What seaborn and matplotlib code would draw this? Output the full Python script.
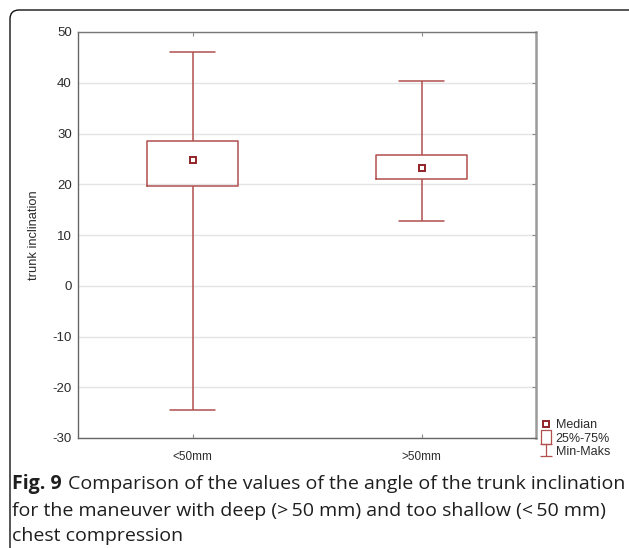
import numpy as np
import pandas as pd
import matplotlib
matplotlib.use("Agg")
import matplotlib.pyplot as plt
from matplotlib.path import Path
from matplotlib.lines import Line2D
from matplotlib.patches import FancyBboxPatch
import seaborn as sns

# Five-number summaries of trunk inclination per compression-depth group
groups = ["<50mm", ">50mm"]
mins = [-24.5, 12.7]
q1s = [19.7, 21.1]
medians = [24.7, 23.3]
q3s = [28.6, 25.8]
maxs = [46.0, 40.3]
y_ticks = [-30, -20, -10, 0, 10, 20, 30, 40, 50]

# With five values the 25/50/75 percentiles fall exactly on the summary points
rows = []
for g, a, b, c, d, e in zip(groups, mins, q1s, medians, q3s, maxs):
    for v in (a, b, c, d, e):
        rows.append({"group": g, "value": v})
df = pd.DataFrame(rows)

sns.set_style("white")
plt.rcParams["font.family"] = ["Liberation Sans", "DejaVu Sans"]

BOX_RED = "#b2504f"
MED_RED = "#922428"
TEXT = "#2b2b2b"

fig = plt.figure(figsize=(6.29, 5.48), dpi=100)
ax = fig.add_axes([78 / 629, 1 - 438 / 548, 458 / 629, 406 / 548])

sns.boxplot(
    data=df, x="group", y="value", order=groups, whis=(0, 100), width=0.4,
    fill=False, color=BOX_RED, linecolor=BOX_RED, linewidth=1.1,
    showfliers=False, medianprops={"visible": False}, ax=ax,
)
sns.pointplot(
    data=df, x="group", y="value", order=groups, estimator="median",
    errorbar=None, marker="s", linestyle="none", color=MED_RED,
    markersize=4.5, markerfacecolor="white", markeredgecolor=MED_RED,
    markeredgewidth=1.4, ax=ax,
)

ax.set_xlim(-0.5, 1.5)
ax.set_ylim(-30, 50)
ax.set_yticks(y_ticks)
ax.set_yticklabels([str(t) for t in y_ticks])
ax.yaxis.grid(True, color="#e4e4e4", linewidth=1.0)
ax.set_axisbelow(True)
ax.set_xlabel("")
ax.set_ylabel("trunk inclination", fontsize=9.3, color=TEXT)
ax.yaxis.set_label_coords(-0.083, 0.5)

ax.tick_params(axis="x", labelsize=8.5, labelcolor=TEXT)
ax.tick_params(axis="y", labelsize=9.5, labelcolor=TEXT)
ax.tick_params(axis="y", left=False, right=True, direction="in", length=3,
               color="#888888", pad=4.5)
ax.tick_params(axis="x", bottom=True, top=True, direction="in", length=3,
               color="#888888", pad=9)

for side, col, lw in [("left", "#666666", 1.0), ("bottom", "#666666", 1.0),
                      ("top", "#777777", 1.0), ("right", "#9a9a9a", 1.8)]:
    ax.spines[side].set_visible(True)
    ax.spines[side].set_color(col)
    ax.spines[side].set_linewidth(lw)

# Legend glyphs: median point, quartile box, min-max whisker
rect = Path([(-0.35, -0.5), (0.35, -0.5), (0.35, 0.5), (-0.35, 0.5), (-0.35, -0.5)],
            [Path.MOVETO, Path.LINETO, Path.LINETO, Path.LINETO, Path.CLOSEPOLY])
ibar = Path([(-0.5, 0.5), (0.5, 0.5), (0, 0.5), (0, -0.5), (-0.5, -0.5), (0.5, -0.5)],
            [Path.MOVETO, Path.LINETO, Path.MOVETO, Path.LINETO, Path.MOVETO, Path.LINETO])
handles = [
    Line2D([], [], linestyle="none", marker="s", markersize=4.5,
           markerfacecolor="white", markeredgecolor=MED_RED, markeredgewidth=1.4),
    Line2D([], [], linestyle="none", marker=rect, markersize=10,
           markerfacecolor="none", markeredgecolor=BOX_RED, markeredgewidth=0.9),
    Line2D([], [], linestyle="none", marker=ibar, markersize=9,
           markerfacecolor="none", markeredgecolor=BOX_RED, markeredgewidth=0.9),
]
fig.legend(handles, ["Median", "25%-75%", "Min-Maks"], loc="upper left",
           bbox_to_anchor=(535 / 629, 1 - 413 / 548), frameon=False,
           fontsize=9, handlelength=0.8, handletextpad=0.35, labelspacing=0.1,
           borderpad=0, labelcolor=TEXT)

# Caption below the plot
cap_font = ["Open Sans", "DejaVu Sans"]
cap_size = 14
fig.canvas.draw()
bold = fig.text(12 / 629, 1 - 484 / 548, "Fig. 9", fontsize=cap_size,
                fontweight="bold", family=cap_font, va="center", color="#1e1e1e")
renderer = fig.canvas.get_renderer()
bb = bold.get_window_extent(renderer)
x_after = (bb.x1 + 6) / fig.bbox.width
fig.text(x_after, 1 - 484 / 548,
         "Comparison of the values of the angle of the trunk inclination",
         fontsize=cap_size, family=cap_font, va="center", color="#1e1e1e")
fig.text(12 / 629, 1 - 511 / 548,
         "for the maneuver with deep (>\u200950 mm) and too shallow (<\u200950 mm)",
         fontsize=cap_size, family=cap_font, va="center", color="#1e1e1e")
fig.text(12 / 629, 1 - 536 / 548, "chest compression",
         fontsize=cap_size, family=cap_font, va="center", color="#1e1e1e")

# Rounded panel frame running off the right and bottom edges
frame = FancyBboxPatch((0.10, -0.5), 6.33, 5.38 + 0.5,
                       boxstyle="round,pad=0,rounding_size=0.09",
                       transform=fig.dpi_scale_trans, facecolor="none",
                       edgecolor="#111111", linewidth=1.0, clip_on=False)
fig.add_artist(frame)

fig.savefig("out.png", dpi=100)
